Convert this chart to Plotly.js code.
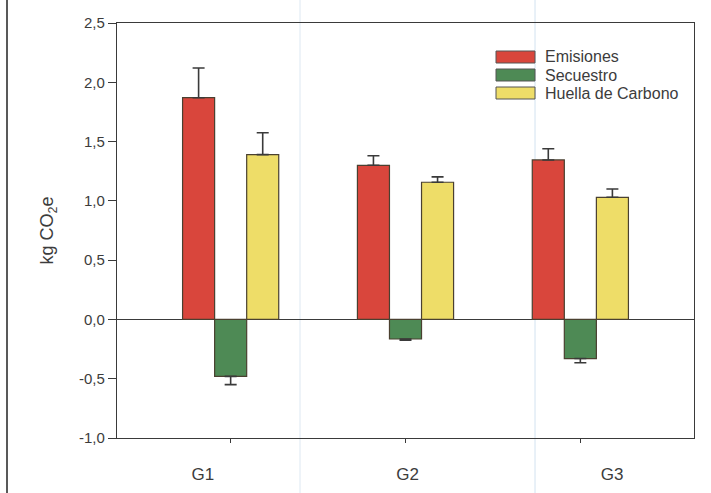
<!DOCTYPE html>
<html>
<head>
<meta charset="utf-8">
<script src="https://cdn.plot.ly/plotly-3.0.1.min.js"></script>
<style>html,body{margin:0;padding:0;background:#fff;}#chart{width:711px;height:493px;}</style>
</head>
<body>
<div id="chart"></div>
<script>
const categories = ["G1", "G2", "G3"];
const emisiones = [1.87, 1.30, 1.345];
const emisionesErr = [0.25, 0.08, 0.095];
const secuestro = [-0.48, -0.165, -0.33];
const secuestroErr = [0.07, 0.01, 0.035];
const huella = [1.39, 1.157, 1.03];
const huellaErr = [0.185, 0.045, 0.07];
const seriesNames = ["Emisiones", "Secuestro", "Huella de Carbono"];
const seriesColors = ["#d9463c", "#4e8a55", "#eedd68"];
const yTickVals = [-1.0, -0.5, 0.0, 0.5, 1.0, 1.5, 2.0, 2.5];
const yTickLabels = ["-1,0", "-0,5", "0,0", "0,5", "1,0", "1,5", "2,0", "2,5"];
const zeros = [0, 0, 0];

const lineCol = "#3a3a3a";
const textCol = "#3c3c3c";
function bar(name, y, plusErr, minusErr, color) {
  return {
    type: "bar", name: name, x: categories, y: y,
    marker: {color: color, line: {color: "#4a4030", width: 1.2}},
    error_y: {type: "data", symmetric: false, array: plusErr, arrayminus: minusErr,
              color: lineCol, thickness: 1.6, width: 6},
    hoverinfo: "none", showlegend: false
  };
}
const data = [
  bar(seriesNames[0], emisiones, emisionesErr, zeros, seriesColors[0]),
  bar(seriesNames[1], secuestro, zeros, secuestroErr, seriesColors[1]),
  bar(seriesNames[2], huella, huellaErr, zeros, seriesColors[2]),
  // invisible carrier trace for the category-label axis
  {type: "scatter", mode: "markers", x: categories, y: zeros, xaxis: "x2", yaxis: "y",
   marker: {opacity: 0, size: 1}, hoverinfo: "none", showlegend: false}
];

// manual legend (wide swatches like the original)
const plotL = 117, plotW = 577, plotT = 23, plotH = 415;
const px = v => (v - plotL) / plotW;
const py = v => (plotT + plotH - v) / plotH;
const legendShapes = [], legendAnnots = [];
seriesNames.forEach((n, i) => {
  const cy = 57 + i * 18;
  legendShapes.push({type: "rect", xref: "paper", yref: "paper",
    x0: px(496), x1: px(535), y0: py(cy + 6), y1: py(cy - 6),
    fillcolor: seriesColors[i], line: {color: "#555", width: 1}});
  legendAnnots.push({xref: "paper", yref: "paper", x: px(543), y: py(cy),
    xanchor: "left", yanchor: "middle", text: n, showarrow: false,
    font: {size: 16, color: textCol}});
});

const layout = {
  width: 711, height: 493,
  margin: {l: 117, r: 17, t: 23, b: 55},
  paper_bgcolor: "#fff", plot_bgcolor: "#fff",
  font: {family: "Liberation Sans, Arial, sans-serif", color: textCol, size: 14},
  barmode: "group", bargap: 0.45, bargroupgap: 0,
  showlegend: false,
  xaxis: {
    range: [-0.65, 2.65], showgrid: false, zeroline: false,
    showline: true, linecolor: lineCol, linewidth: 1.2, mirror: true,
    ticks: "outside", ticklen: 4, tickcolor: lineCol, showticklabels: false
  },
  // category labels are placed slightly wider apart than the ticks in the original
  xaxis2: {
    overlaying: "x", anchor: "y", side: "bottom", type: "category",
    range: [-0.42, 2.40],
    showgrid: false, zeroline: false, showline: false, ticks: "",
    tickfont: {size: 17, color: textCol}, ticklabelstandoff: 24
  },
  yaxis: {
    range: [-1.0, 2.5], tickmode: "array", tickvals: yTickVals, ticktext: yTickLabels,
    showgrid: false, zeroline: true, zerolinecolor: lineCol, zerolinewidth: 1.2,
    showline: true, linecolor: lineCol, linewidth: 1.2, mirror: true,
    ticks: "outside", ticklen: 8, tickcolor: lineCol,
    tickfont: {size: 15, color: textCol},
    title: {text: "kg CO<sub>2</sub>e", font: {size: 18, color: textCol}, standoff: 20}
  },
  annotations: legendAnnots,
  shapes: [
    {type: "line", xref: "paper", yref: "paper", x0: px(7), x1: px(7), y0: -0.14, y1: 1.06,
     line: {color: "#222", width: 1.5}},
    {type: "line", xref: "paper", yref: "paper", x0: px(300), x1: px(300), y0: -0.14, y1: 1.06,
     line: {color: "#dde8f2", width: 1}, layer: "below"},
    {type: "line", xref: "paper", yref: "paper", x0: px(535), x1: px(535), y0: -0.14, y1: 1.06,
     line: {color: "#d2e2f0", width: 1}, layer: "below"}
  ].concat(legendShapes)
};
Plotly.newPlot("chart", data, layout, {displayModeBar: false, staticPlot: true});
</script>
</body>
</html>
